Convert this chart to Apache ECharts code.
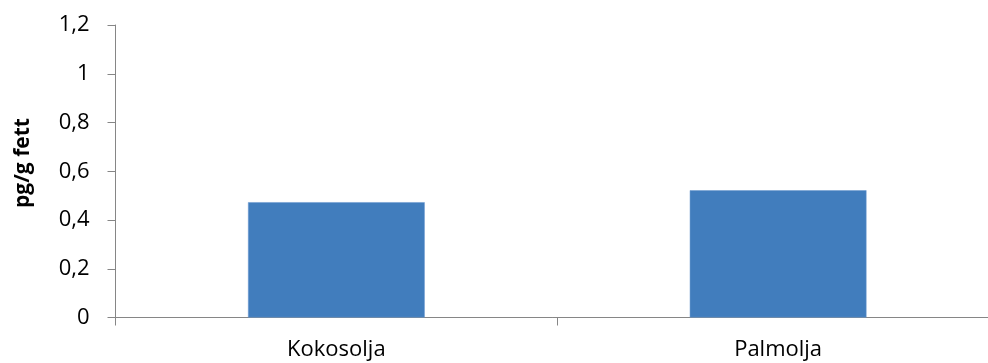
<!DOCTYPE html>
<html><head><meta charset="utf-8">
<script src="https://cdn.jsdelivr.net/npm/echarts@6/dist/echarts.min.js"></script>
<style>html,body{margin:0;padding:0;background:#fff}#c{width:988px;height:363px}</style>
</head><body><div id="c"></div>
<script>
const categories = ['Kokosolja', 'Palmolja'];
const values = [0.473, 0.522];
const yTicks = [0, 0.2, 0.4, 0.6, 0.8, 1, 1.2];
const yAxisTitle = 'pg/g fett';

const chart = echarts.init(document.getElementById('c'), null, {renderer: 'canvas'});
const font = '"Open Sans", Lato, sans-serif';
chart.setOption({
  animation: false,
  grid: {left: 115.5, right: -11, top: 25, bottom: 45.5, outerBoundsMode: 'none', containLabel: false},
  xAxis: {
    type: 'category', data: categories,
    axisLine: {lineStyle: {color: '#868686', width: 1}},
    axisTick: {show: true, length: 8, lineStyle: {color: '#868686'}},
    axisLabel: {color: '#000', fontSize: 22, fontFamily: font, margin: 21}
  },
  yAxis: {
    type: 'value', min: 0, max: 1.2, interval: 0.2,
    splitLine: {show: false},
    axisLine: {show: true, lineStyle: {color: '#868686', width: 1}},
    axisTick: {show: true, length: 8, lineStyle: {color: '#868686'}},
    axisLabel: {color: '#000', fontSize: 22, fontFamily: font, margin: 26,
      formatter: v => { const t = yTicks.find(x => Math.abs(x - v) < 1e-9); return String(t !== undefined ? t : v).replace('.', ','); }}
  },
  graphic: [{
    type: 'text', x: 23, y: 163, rotation: Math.PI / 2,
    style: {text: yAxisTitle, font: 'bold 21px ' + font, fill: '#000', align: 'center', verticalAlign: 'middle'}
  }],
  series: [{
    type: 'bar', data: values, barCategoryGap: '60%',
    itemStyle: {color: '#417DBD', borderColor: '#6A98CF', borderWidth: 0.5}
  }]
});
</script></body></html>
